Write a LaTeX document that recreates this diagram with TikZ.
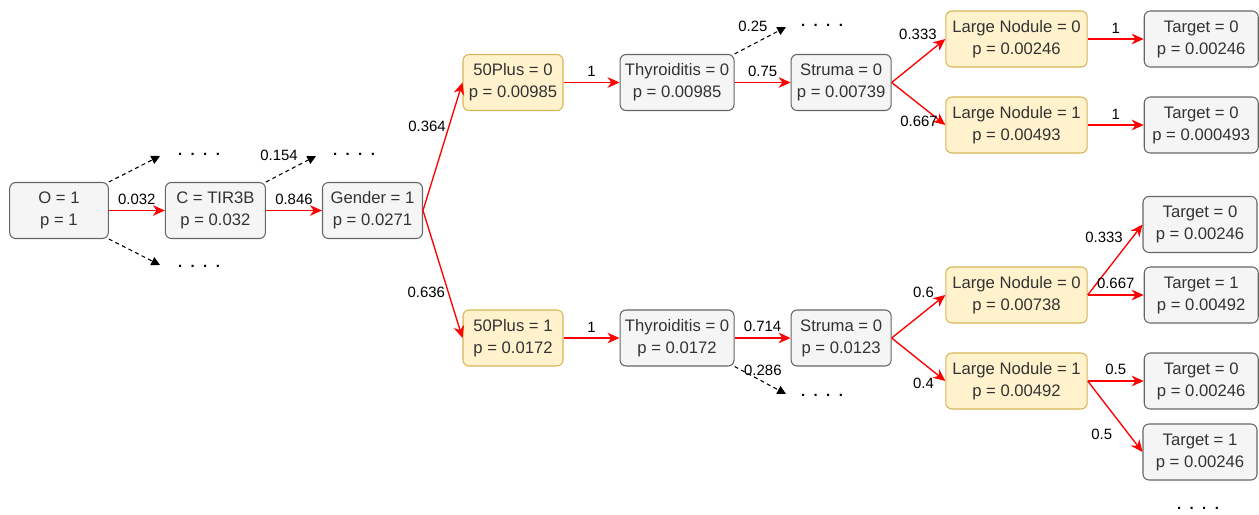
\documentclass[tikz,border=0pt]{standalone}
\usepackage{fontspec}
\setmainfont{Liberation Sans}
\usetikzlibrary{positioning,arrows.meta}

\definecolor{boxfill}{HTML}{F5F5F5}
\definecolor{boxline}{HTML}{666666}
\definecolor{boxtext}{HTML}{333333}
\definecolor{hifill}{HTML}{FFF2CC}
\definecolor{hiline}{HTML}{D6B656}
\newcommand{\fourdots}{.\hspace{6.3pt}.\hspace{6.3pt}.\hspace{6.3pt}.}

\tikzset{
  box/.style={draw=boxline, fill=boxfill, text=boxtext, line width=0.8pt,
    rounded corners=4.5pt, minimum width=75pt, minimum height=42pt,
    inner sep=0pt, align=center, font=\fontsize{12.5}{16.5}\selectfont},
  hibox/.style={box, draw=hiline, fill=hifill},
  wide/.style={minimum width=85.5pt},
  wider/.style={minimum width=106pt},
  lbl/.style={font=\fontsize{11.2}{13}\selectfont, inner sep=2pt},
  tran/.style={draw=red, line width=1pt, -{Stealth[length=9pt,width=8pt,inset=2.8pt]}},
  rest/.style={draw=black, line width=0.8pt, dash pattern=on 3pt off 2.5pt,
    -{Triangle[length=6.5pt,width=6.5pt]}},
  more/.style={font=\fontsize{11.2}{13}\selectfont\bfseries, inner sep=0pt}
}

\begin{document}
\begin{tikzpicture}[x=0.75pt, y=-0.75pt]
\useasboundingbox (0,0) rectangle (1259,514);
% root chain
\node [box, minimum width=74pt] (o) at (59,210.5) {O = 1\\p = 1};
\node [box, right=42pt of o] (c) {C = TIR3B\\p = 0.032};
\node [box, right=42pt of c] (g) {Gender = 1\\p = 0.0271};
% upper branch
\node [hibox] (fa) at (513,82.5) {50Plus = 0\\p = 0.00985};
\node [box, wide, right=42pt of fa] (ta) {Thyroiditis = 0\\p = 0.00985};
\node [box, right=42pt of ta] (sa) {Struma = 0\\p = 0.00739};
\node [hibox, wider] (la) at (1016.5,39) {Large Nodule = 0\\p = 0.00246};
\node [hibox, wider] (lb) at (1016.5,125) {Large Nodule = 1\\p = 0.00493};
\node [box, wide, right=42pt of la] (xa) {Target = 0\\p = 0.00246};
\node [box, wide, right=42pt of lb] (xb) {Target = 0\\p = 0.000493};
% lower branch
\node [hibox] (fb) at (513,338) {50Plus = 1\\p = 0.0172};
\node [box, wide, right=42pt of fb] (tb) {Thyroiditis = 0\\p = 0.0172};
\node [box, right=42pt of tb] (sb) {Struma = 0\\p = 0.0123};
\node [hibox, wider] (lc) at (1016.5,295) {Large Nodule = 0\\p = 0.00738};
\node [hibox, wider] (ld) at (1016.5,381) {Large Nodule = 1\\p = 0.00492};
\node [box, wide] (xc) at (1200,224.5) {Target = 0\\p = 0.00246};
\node [box, wide, right=42pt of lc] (xd) {Target = 1\\p = 0.00492};
\node [box, wide, right=42pt of ld] (xe) {Target = 0\\p = 0.00246};
\node [box, wide] (xf) at (1200,452) {Target = 1\\p = 0.00246};

% cut-off branches
\coordinate (e1) at (160,156);
\coordinate (e2) at (160,265);
\coordinate (e3) at (316,156);
\coordinate (e4) at (786,27);
\coordinate (e5) at (786,394);
\node [more] (d1) at (199,154) {\fourdots};
\node [more] (d2) at (199,266) {\fourdots};
\node [more] (d3) at (354,154) {\fourdots};
\node [more] (d4) at (822,25) {\fourdots};
\node [more] (d5) at (822,395) {\fourdots};
\node [more] (d6) at (1198,508) {\fourdots};

\draw [tran] (o) -- node[lbl, above=2pt] {0.032} (c);
\draw [tran] (c) -- node[lbl, above=2pt] {0.846} (g);
\draw [tran] (g.east) -- node[lbl, pos=0.66, left] {0.364} (fa.west);
\draw [tran] (g.east) -- node[lbl, pos=0.64, left] {0.636} (fb.west);
\draw [tran] (fa) -- node[lbl, above=2pt] {1} (ta);
\draw [tran] (ta) -- node[lbl, above=2pt] {0.75} (sa);
\draw [tran] (sa.east) -- node[lbl, pos=0.9, above left] {0.333} (la.west);
\draw [tran] (sa.east) -- node[lbl, pos=0.92, left] {0.667} (lb.west);
\draw [tran] (la) -- node[lbl, above=2pt] {1} (xa);
\draw [tran] (lb) -- node[lbl, above=2pt] {1} (xb);
\draw [tran] (fb) -- node[lbl, above=2pt] {1} (tb);
\draw [tran] (tb) -- node[lbl, above=2pt] {0.714} (sb);
\draw [tran] (sb.east) -- node[lbl, pos=0.85, above left] {0.6} (lc.west);
\draw [tran] (sb.east) -- node[lbl, pos=0.85, below left] {0.4} (ld.west);
\draw [tran] (lc.east) -- node[lbl, pos=0.7, above left] {0.333} (xc.west);
\draw [tran] (lc) -- node[lbl, above=2pt] {0.667} (xd);
\draw [tran] (ld) -- node[lbl, above=2pt] {0.5} (xe);
\draw [tran] (ld.east) -- node[lbl, pos=0.75, left=10pt] {0.5} (xf.west);

\draw [rest] (o.north east) -- (e1);
\draw [rest] (o.south east) -- (e2);
\draw [rest] (c.north east) -- node[lbl, pos=0.7, above left=0pt] {0.154} (e3);
\draw [rest] (ta.north east) -- node[lbl, pos=0.7, above left=0pt] {0.25} (e4);
\draw [rest] (tb.south east) -- node[lbl, pos=0.55, above=2pt] {0.286} (e5);
\end{tikzpicture}
\end{document}
